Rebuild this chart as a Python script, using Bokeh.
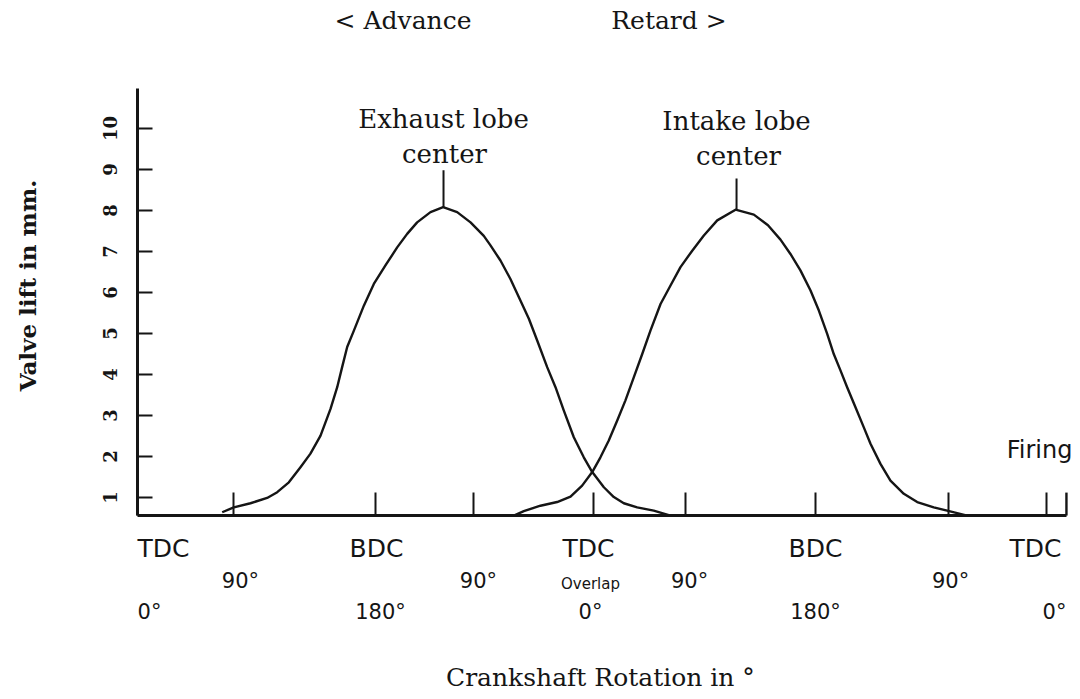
import math
from bokeh.plotting import figure
from bokeh.models import Range1d, FixedTicker, ColumnDataSource
from bokeh.embed import file_html
from bokeh.resources import INLINE
from bokeh.core.properties import value

# ---- data (crank angle in degrees along the drawn axis, lift in mm) ----
exhaust_deg = [67.1, 76.3, 89.5, 102.7, 110.7, 119.9, 129.1, 137.0, 145.0, 152.9, 158.2,
               162.1, 166.1, 171.4, 179.3, 187.2, 196.4, 205.7, 213.6, 221.5, 232.1,
               242.1, 253.2, 263.8, 274.3, 279.6, 287.5, 295.4, 303.4, 310.0, 316.6,
               324.5, 331.1, 337.7, 345.6, 353.5, 360.2, 369.4, 377.3, 385.2, 395.8,
               408.9, 422.2]
exhaust_lift = [0.64, 0.76, 0.86, 0.99, 1.13, 1.37, 1.74, 2.07, 2.51, 3.16, 3.69,
                4.18, 4.67, 5.07, 5.68, 6.21, 6.66, 7.10, 7.43, 7.71, 7.96,
                8.08, 7.96, 7.71, 7.38, 7.15, 6.78, 6.33, 5.80, 5.36, 4.83,
                4.18, 3.69, 3.12, 2.47, 1.98, 1.62, 1.25, 1.01, 0.86, 0.76,
                0.68, 0.56]

intake_deg = [298.1, 306.0, 319.2, 332.4, 343.0, 352.2, 360.2, 366.7, 373.3, 380.0, 386.5,
              393.1, 399.8, 406.3, 414.3, 422.2, 430.1, 439.4, 448.6, 459.2, 473.7,
              488.2, 499.4, 509.3, 517.2, 525.1, 533.1, 539.7, 546.3, 551.5, 556.8,
              562.1, 568.7, 575.3, 580.6, 588.5, 596.4, 607.0, 617.6, 630.7, 641.3,
              657.2]
intake_lift = [0.56, 0.67, 0.80, 0.89, 1.02, 1.29, 1.62, 1.98, 2.39, 2.88, 3.37,
               3.93, 4.50, 5.07, 5.72, 6.17, 6.62, 7.02, 7.39, 7.76, 8.02,
               7.90, 7.64, 7.29, 6.94, 6.54, 6.05, 5.56, 4.99, 4.50, 4.10,
               3.69, 3.20, 2.71, 2.31, 1.82, 1.41, 1.09, 0.89, 0.76, 0.68,
               0.56]

lobe_names = ["Exhaust lobe", "Intake lobe"]
lobe_center_deg = [242.4, 474.5]
lobe_peak_lift = [8.08, 8.02]
lobe_marker_top = [8.98, 8.78]

lift_ticks = [1, 2, 3, 4, 5, 6, 7, 8, 9, 10]
lift_axis_bounds = (0.56, 10.98)

# crank axis marks (positions as drawn)
tick_deg = [0, 76.0, 188.5, 266.1, 361.2, 434.1, 537.0, 642.4, 720.0]
point_deg = [0, 188.5, 361.2, 537.0, 720.0]
point_names = ["TDC", "BDC", "TDC", "BDC", "TDC"]
point_angles = ["0°", "180°", "0°", "180°", "0°"]
quarter_deg = [76.0, 266.1, 434.1, 642.4]
quarter_labels = ["90°", "90°", "90°", "90°"]
overlap_deg = 361.2
axis_end_deg = 735.8
axis_end_top = 1.12

# ---- layout / style ----
INK = "#151515"
SERIF = "DejaVu Serif"
SANS = "DejaVu Sans"
BASE = lift_axis_bounds[0]

p = figure(width=1072, height=695,
           x_range=Range1d(-108.5, 740.6), y_range=Range1d(-3.829, 13.122),
           output_backend="svg", toolbar_location=None,
           min_border=0)
p.outline_line_color = None
p.grid.visible = False

# y axis (drawn at crank angle 0)
ya = p.yaxis[0]
ya.fixed_location = 0
ya.bounds = lift_axis_bounds
ya.ticker = FixedTicker(ticks=lift_ticks)
ya.major_label_orientation = "vertical"
ya.major_label_text_font = SERIF
ya.major_label_text_font_size = "18px"
ya.major_label_text_font_style = "bold"
ya.major_label_text_color = INK
ya.major_label_standoff = 20
ya.major_tick_in = 15
ya.major_tick_out = 0
ya.minor_tick_in = 0
ya.minor_tick_out = 0
ya.axis_line_width = 3
ya.axis_line_color = INK
ya.major_tick_line_width = 2
ya.major_tick_line_color = INK

# x axis (drawn at zero lift baseline)
xa = p.xaxis[0]
xa.fixed_location = BASE
xa.bounds = (0, axis_end_deg)
xa.ticker = FixedTicker(ticks=tick_deg)
xa.major_label_text_font_size = "1px"
xa.major_label_text_color = None
xa.major_tick_in = 23
xa.major_tick_out = 0
xa.minor_tick_in = 0
xa.minor_tick_out = 0
xa.axis_line_width = 3
xa.axis_line_color = INK
xa.major_tick_line_width = 2
xa.major_tick_line_color = INK

# curves
p.line(exhaust_deg, exhaust_lift, line_width=2.4, line_color=INK, line_join="round")
p.line(intake_deg, intake_lift, line_width=2.4, line_color=INK, line_join="round")

# lobe centre markers
p.segment(x0=lobe_center_deg, y0=lobe_peak_lift, x1=lobe_center_deg, y1=lobe_marker_top,
          line_width=2, line_color=INK)

# curled end of the crank axis
p.segment(x0=[axis_end_deg], y0=[BASE], x1=[axis_end_deg], y1=[axis_end_top],
          line_width=2.4, line_color=INK)

def txt(x, y, t, size, font=SERIF, align="center", style="normal", angle=0.0, dx=None):
    data = dict(x=x, y=y, t=t)
    kw = {}
    if dx is not None:
        data["dx"] = dx
        kw["x_offset"] = "dx"
    p.text(x="x", y="y", text="t", source=ColumnDataSource(data),
           text_font=value(font), text_font_size=size, text_font_style=style,
           text_align=align, text_baseline="middle", text_color=INK, angle=angle, **kw)

# lobe labels
txt(lobe_center_deg, [10.22, 10.18], lobe_names, "26px")
txt(lobe_center_deg, [9.37, 9.32], ["center", "center"], "26px", dx=[1, 2])

# Advance / Retard
txt([210.3, 421.0], [12.63, 12.63], ["< Advance", "Retard >"], "25px")

# Firing
txt([axis_end_deg], [2.15], ["Firing"], "24px", font=SANS, align="right", dx=[6])

# crank axis text rows
txt(point_deg, [-0.24] * 5, point_names, "25px", font=SANS, dx=[26, 1, -5, 0, -11])
txt(quarter_deg, [-1.04] * 4, quarter_labels, "21px", font=SANS, dx=[7, 5, 4, 2])
txt([overlap_deg], [-1.12], ["Overlap"], "15px", font=SANS, dx=[-3])
txt(point_deg, [-1.80] * 5, point_angles, "21px", font=SANS, dx=[12, 5, -3, 0, 8])

# axis titles
txt([366.7], [-3.38], ["Crankshaft Rotation in °"], "25px")
txt([-87.1], [6.17], ["Valve lift in mm."], "23px", style="bold", angle=math.pi / 2)

open("out.html", "w").write(file_html(p, INLINE))
